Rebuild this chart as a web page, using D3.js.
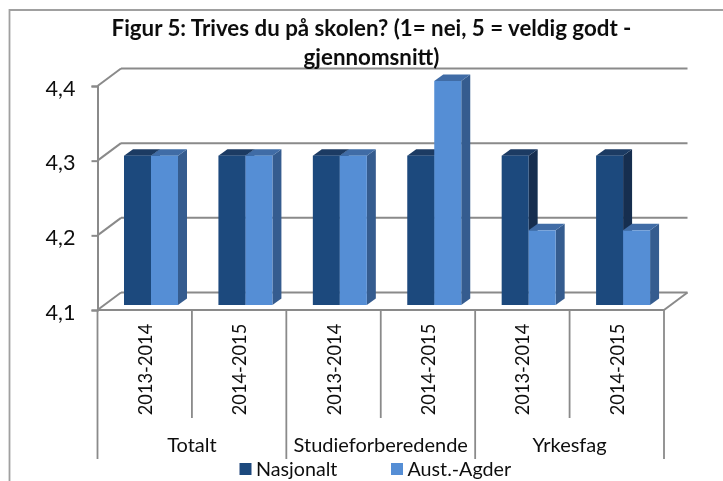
<!DOCTYPE html>
<html>
<head>
<meta charset="utf-8">
<script src="https://cdn.jsdelivr.net/npm/d3@7/dist/d3.min.js"></script>
<style>
    html, body { margin: 0; padding: 0; background: #fff; }
    svg { display: block; }
    text { font-family: Lato, "Open Sans", sans-serif; fill: #111; }
</style>
</head>
<body>
<div id="chart"></div>
<script>
(function() {
    var groups = ['Totalt', 'Studieforberedende', 'Yrkesfag'];
    var years = ['2013-2014', '2014-2015', '2013-2014', '2014-2015', '2013-2014', '2014-2015'];
    var seriesNames = ['Nasjonalt', 'Aust.-Agder'];
    var nasjonalt = [4.3, 4.3, 4.3, 4.3, 4.3, 4.3];
    var austAgder = [4.3, 4.3, 4.3, 4.4, 4.2, 4.2];
    var yTicks = [4.1, 4.2, 4.3, 4.4];
    var titleLines = ['Figur 5: Trives du på skolen? (1= nei, 5 = veldig godt -', 'gjennomsnitt)'];

    var width = 723;
    var height = 481;
    var gridColor = '#8a8a8a';

    var svg = d3.select('#chart').append('svg')
        .attr('width', width)
        .attr('height', height);

    svg.append('filter').attr('id', 'soft')
        .append('feGaussianBlur').attr('stdDeviation', 0.4);

    var root = svg.append('g').attr('filter', 'url(#soft)');

    var y = d3.scaleLinear().domain([4.1, 4.4]).range([310, 86]);
    var xBand = d3.scaleBand().domain(d3.range(years.length)).range([97.5, 664]);
    var xGroup = d3.scaleBand().domain(groups).range([97.5, 664]);
    var xSeries = d3.scaleBand().domain(seriesNames).range([0, 54]);

    // 3d wall offset and bar depth
    var wallX = 23.5;
    var wallY = -17.5;
    var barInset = 26.5;
    var barLift = -5;
    var depthX = 9;
    var depthY = -6.5;

    // outer frame
    root.append('path')
        .attr('d', 'M9.5,481V10H723')
        .attr('fill', 'none')
        .attr('stroke', '#a0a0a0')
        .attr('stroke-width', 1.8);

    // walls
    root.selectAll('.grid').data(yTicks).enter().append('line')
        .attr('class', 'grid')
        .attr('x1', 97.5 + wallX)
        .attr('x2', 664 + wallX)
        .attr('y1', function(d) { return y(d) + wallY; })
        .attr('y2', function(d) { return y(d) + wallY; })
        .attr('stroke', gridColor)
        .attr('stroke-width', 2);

    root.selectAll('.diag').data(yTicks).enter().append('line')
        .attr('class', 'diag')
        .attr('x1', 97.5)
        .attr('x2', 97.5 + wallX)
        .attr('y1', function(d) { return y(d); })
        .attr('y2', function(d) { return y(d) + wallY; })
        .attr('stroke', gridColor)
        .attr('stroke-width', 2);

    root.append('line')
        .attr('x1', 664).attr('x2', 664 + wallX)
        .attr('y1', y(4.1)).attr('y2', y(4.1) + wallY)
        .attr('stroke', gridColor)
        .attr('stroke-width', 2);

    // bars, dark series first so the light one sits over its side
    var seriesStyle = [
        { values: nasjonalt, front: '#1f497d', top: '#1a3a63', side: '#172f50' },
        { values: austAgder, front: '#558ed5', top: '#3f6ca6', side: '#355c8f' }
    ];

    seriesStyle.forEach(function(s, k) {
        var g = root.append('g');
        var left = function(i) { return xBand(i) + barInset + xSeries(seriesNames[k]); };
        var w = xSeries.bandwidth();

        g.selectAll('.side').data(s.values).enter().append('path')
            .attr('fill', s.side)
            .attr('d', function(d, i) {
                var x1 = left(i) + w;
                var yt = y(d) + barLift;
                var yb = y(4.1) + barLift;
                return 'M' + x1 + ',' + yt + 'l' + depthX + ',' + depthY + 'V' + (yb + depthY) + 'l' + (-depthX) + ',' + (-depthY) + 'Z';
            });

        g.selectAll('.top').data(s.values).enter().append('path')
            .attr('fill', s.top)
            .attr('d', function(d, i) {
                var yt = y(d) + barLift;
                return 'M' + left(i) + ',' + yt + 'l' + depthX + ',' + depthY + 'h' + w + 'l' + (-depthX) + ',' + (-depthY) + 'Z';
            });

        g.selectAll('.front').data(s.values).enter().append('rect')
            .attr('fill', s.front)
            .attr('x', function(d, i) { return left(i); })
            .attr('y', function(d) { return y(d) + barLift; })
            .attr('width', w)
            .attr('height', function(d) { return y(4.1) - y(d); });
    });

    // value axis
    var yAxis = d3.axisLeft(y)
        .tickValues(yTicks)
        .tickSize(6)
        .tickPadding(16)
        .tickFormat(function(d) { return String(d).replace('.', ','); });

    var yAxisG = root.append('g')
        .attr('transform', 'translate(97.5,0)')
        .call(yAxis);

    yAxisG.select('.domain').attr('stroke', gridColor).attr('stroke-width', 2);
    yAxisG.selectAll('.tick line').attr('stroke', gridColor).attr('stroke-width', 2);
    yAxisG.selectAll('.tick text')
        .attr('dy', '0.42em')
        .style('font-family', 'Lato, sans-serif')
        .style('font-size', '21.6px')
        .attr('fill', '#111');

    // category axis, two levels
    root.append('line')
        .attr('x1', 97.5).attr('x2', 664)
        .attr('y1', y(4.1)).attr('y2', y(4.1))
        .attr('stroke', gridColor)
        .attr('stroke-width', 2.2);

    root.selectAll('.sep').data(d3.range(years.length + 1)).enter().append('line')
        .attr('class', 'sep')
        .attr('x1', function(i) { return 97.5 + i * xBand.step(); })
        .attr('x2', function(i) { return 97.5 + i * xBand.step(); })
        .attr('y1', y(4.1))
        .attr('y2', function(i) { return i % 2 === 0 ? 459 : 418; })
        .attr('stroke', gridColor)
        .attr('stroke-width', 1.8);

    root.selectAll('.year').data(years).enter().append('text')
        .attr('class', 'year')
        .attr('text-anchor', 'middle')
        .attr('font-size', 18.3)
        .attr('transform', function(d, i) {
            return 'translate(' + (xBand(i) + xBand.bandwidth() / 2 + 7) + ',369.5) rotate(-90)';
        })
        .text(function(d) { return d; });

    root.selectAll('.group').data(groups).enter().append('text')
        .attr('class', 'group')
        .attr('text-anchor', 'middle')
        .attr('font-size', 20)
        .attr('x', function(d) { return xGroup(d) + xGroup.bandwidth() / 2; })
        .attr('y', 452)
        .text(function(d) { return d; });

    // legend
    var legendX = [239.5, 391];
    seriesNames.forEach(function(name, k) {
        root.append('rect')
            .attr('x', legendX[k])
            .attr('y', 463)
            .attr('width', 12)
            .attr('height', 12)
            .attr('fill', seriesStyle[k].front);
        root.append('text')
            .attr('x', legendX[k] + 16.5)
            .attr('y', 475.5)
            .attr('font-size', 19.7)
            .text(name);
    });

    // title goes last, it runs over the top gridline
    root.selectAll('.title').data(titleLines).enter().append('text')
        .attr('class', 'title')
        .attr('text-anchor', 'middle')
        .attr('font-size', 22.3)
        .attr('font-weight', 700)
        .attr('x', 371.5)
        .attr('y', function(d, i) { return 36 + i * 29; })
        .text(function(d) { return d; });
})();
</script>
</body>
</html>
